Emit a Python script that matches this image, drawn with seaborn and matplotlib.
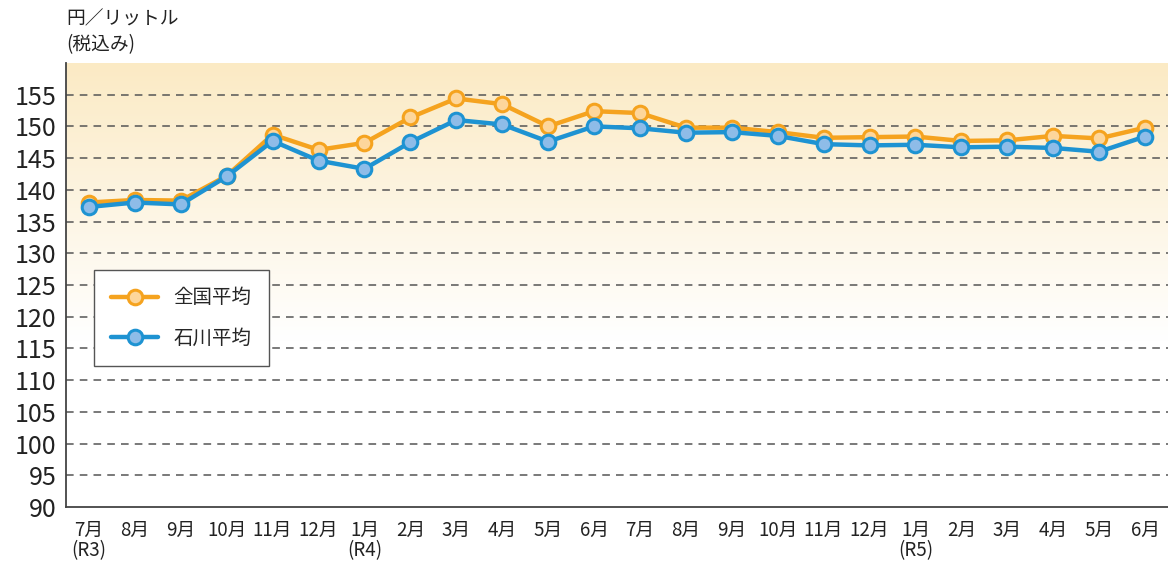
import numpy as np
import pandas as pd
import matplotlib
matplotlib.use("Agg")
import matplotlib.pyplot as plt
import seaborn as sns

sns.set_theme(style="white")
plt.rcParams["font.family"] = ["Noto Sans CJK JP", "DejaVu Sans"]

# 月ラベル (R3.7 ～ R5.6)
months = ["7月\n(R3)", "8月", "9月", "10月", "11月", "12月", "1月\n(R4)", "2月", "3月",
          "4月", "5月", "6月", "7月", "8月", "9月", "10月", "11月", "12月",
          "1月\n(R5)", "2月", "3月", "4月", "5月", "6月"]
national = [138.0, 138.4, 138.3, 142.2, 148.7, 146.3, 147.4, 151.4, 154.4, 153.5,
            150.0, 152.4, 152.1, 149.8, 149.8, 149.1, 148.2, 148.3, 148.4, 147.7,
            147.8, 148.5, 148.1, 149.8]
ishikawa = [137.3, 138.0, 137.7, 142.1, 147.7, 144.6, 143.3, 147.5, 151.0, 150.3,
            147.6, 150.0, 149.7, 149.0, 149.1, 148.5, 147.2, 147.0, 147.1, 146.7,
            146.8, 146.6, 146.0, 148.4]
yticks = list(range(90, 160, 5))

df = pd.DataFrame({"idx": range(len(months)), "全国平均": national, "石川平均": ishikawa})

fig = plt.figure(figsize=(11.68, 5.67), dpi=100)
ax = fig.add_axes([0.0565, 0.1058, 0.9435, 0.7832])

# 背景グラデーション
grad = np.linspace(0, 1, 256).reshape(-1, 1)
top = np.array([251, 234, 196]) / 255
bottom = np.array([255, 255, 255]) / 255
w = np.clip(grad * 1.6, 0, 1)
img = top * (1 - w)[..., None] + bottom * w[..., None]
ax.imshow(img.reshape(256, 1, 3), aspect="auto", extent=[0, 1, 0, 1],
          transform=ax.transAxes, zorder=0)

for y in yticks[1:]:
    ax.axhline(y, color="#555555", lw=1.1, ls=(0, (5, 4)), zorder=1)

styles = {
    "全国平均": ("#F5A31F", "#FDD69B"),
    "石川平均": ("#1E93D2", "#8EBCE8"),
}
for name, (line_c, face_c) in styles.items():
    sns.lineplot(data=df, x="idx", y=name, ax=ax, color=line_c, lw=3.2,
                 marker="o", markersize=10.5, markerfacecolor=face_c,
                 markeredgecolor=line_c, markeredgewidth=2.2, label=name,
                 zorder=3)

ax.set_xlim(-0.5, len(months) - 0.5)
ax.set_ylim(90, 160)
ax.set_yticks(yticks)
ax.set_yticklabels([str(v) for v in yticks], fontsize=18, color="#222222")
ax.set_xticks(range(len(months)))
ax.set_xticklabels(months, fontsize=13.5, color="#222222", linespacing=1.0,
                   va="top")
ax.set_xticks(np.arange(0.5, len(months) - 0.5, 1), minor=True)
ax.tick_params(axis="x", which="major", length=0, pad=9)
ax.tick_params(axis="x", which="minor", direction="in", length=12, width=1.3,
               color="#333333")
ax.tick_params(axis="y", length=0, pad=7)
ax.set_xlabel("")
ax.set_ylabel("")

for s in ["top", "right"]:
    ax.spines[s].set_visible(False)
for s in ["left", "bottom"]:
    ax.spines[s].set_color("#444444")
    ax.spines[s].set_linewidth(1.3)

leg = ax.legend(loc="upper left", bbox_to_anchor=(0.0254, 0.534), fontsize=14,
                frameon=True, fancybox=False, borderpad=0.9, labelspacing=1.0,
                handlelength=2.4, handletextpad=0.8, borderaxespad=0)
leg.get_frame().set_edgecolor("#555555")
leg.get_frame().set_linewidth(1.0)
leg.get_frame().set_facecolor("white")
leg.get_frame().set_alpha(1)

fig.text(0.0565, 0.985, "円／リットル\n(税込み)", ha="left", va="top",
         fontsize=13.5, color="#222222", linespacing=1.3)

fig.savefig("out.png", dpi=100)
